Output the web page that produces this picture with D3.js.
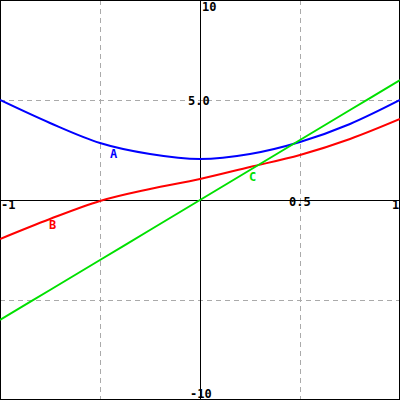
<!DOCTYPE html>
<html><head><script src="https://cdn.jsdelivr.net/npm/d3@7"></script>
<style>body{margin:0}svg{display:block}</style></head>
<body><script>
const xs = [-1, -0.75, -0.5, -0.25, 0, 0.25, 0.5, 0.75, 1];
const seriesA = [5.0, 3.85, 2.85, 2.3, 2.05, 2.3, 2.9, 3.8, 5.0];
const seriesB = [-1.95, -0.95, -0.05, 0.55, 1.05, 1.65, 2.25, 3.05, 4.05];
const seriesC = [-6, -4.5, -3, -1.5, 0, 1.5, 3, 4.5, 6];
const series = [
  { name: "A", values: seriesA, color: "#0000ff", lx: 110, ly: 158 },
  { name: "B", values: seriesB, color: "#ff0000", lx: 49, ly: 229 },
  { name: "C", values: seriesC, color: "#00e000", lx: 249, ly: 181 },
];

const W = 400, H = 400;
const x = d3.scaleLinear().domain([-1, 1]).range([0, W]);
const y = d3.scaleLinear().domain([-10, 10]).range([H, 0]);

const svg = d3.select("body").append("svg").attr("width", W).attr("height", H)
  .style("background", "#fff").style("font-family", "'DejaVu Sans Mono', monospace")
  .style("font-size", "12px").style("font-weight", "bold");

// grid
[-0.5, 0.5].forEach(v => svg.append("line").attr("x1", x(v) + 0.5).attr("x2", x(v) + 0.5)
  .attr("y1", 0).attr("y2", H).attr("stroke", "#aaa").attr("stroke-dasharray", "5,4"));
[-5, 5].forEach(v => svg.append("line").attr("y1", y(v) + 0.5).attr("y2", y(v) + 0.5)
  .attr("x1", 0).attr("x2", W).attr("stroke", "#aaa").attr("stroke-dasharray", "5,4"));

// axes
svg.append("line").attr("x1", x(0) + 0.5).attr("x2", x(0) + 0.5).attr("y1", 0).attr("y2", H).attr("stroke", "#000");
svg.append("line").attr("y1", y(0) + 0.5).attr("y2", y(0) + 0.5).attr("x1", 0).attr("x2", W).attr("stroke", "#000");
svg.append("rect").attr("x", 0.5).attr("y", 0.5).attr("width", W - 1).attr("height", H - 1)
  .attr("fill", "none").attr("stroke", "#000");

// tick labels
const labels = [
  { t: "10", px: x(0) + 2, py: y(10) + 11 },
  { t: "5.0", px: x(0) - 12, py: y(5) + 5 },
  { t: "-1", px: x(-1) + 1, py: y(0) + 9 },
  { t: "0.5", px: x(0.5) - 11, py: y(0) + 6 },
  { t: "1", px: x(1) - 8, py: y(0) + 9 },
  { t: "-10", px: x(0) - 10, py: y(-10) - 2 },
];
svg.selectAll(".tick").data(labels).enter().append("text")
  .attr("x", d => d.px).attr("y", d => d.py).text(d => d.t).attr("fill", "#000");

const line = d3.line().x((d, i) => x(xs[i])).y(d => y(d)).curve(d3.curveCardinal);
series.forEach(s => {
  svg.append("path").attr("d", line(s.values)).attr("fill", "none")
    .attr("stroke", s.color).attr("stroke-width", 2);
  svg.append("text").attr("x", s.lx).attr("y", s.ly).attr("fill", s.color).text(s.name);
});
</script></body></html>
